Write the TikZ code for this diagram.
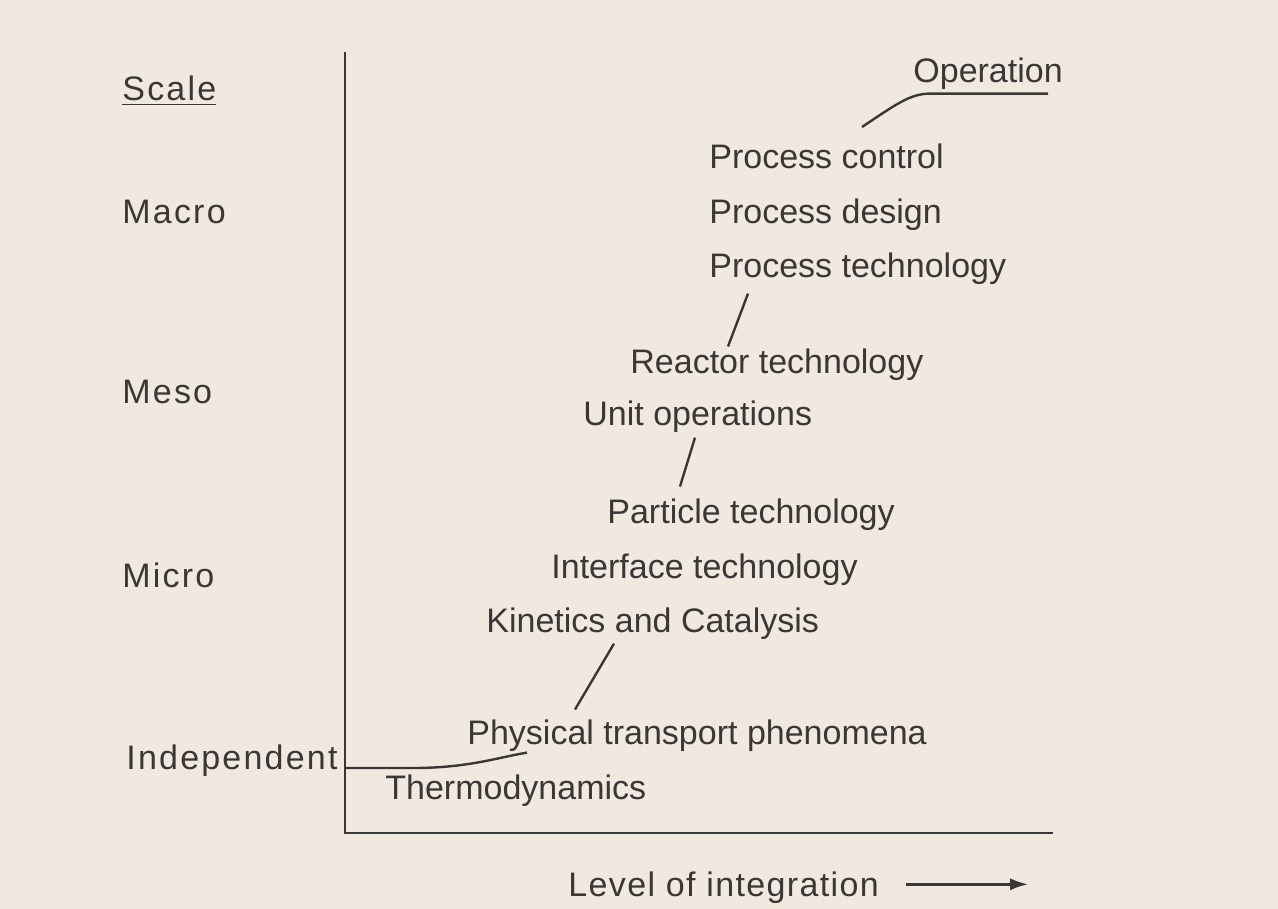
\documentclass[tikz,border=0pt]{standalone}
\usepackage{fontspec}
\setmainfont{Liberation Sans}
\newfontfamily\scalefont[LetterSpace=6.5]{Liberation Sans}
\newfontfamily\levelfont[LetterSpace=4]{Liberation Sans}
\usetikzlibrary{calc,arrows.meta}
\definecolor{paper}{RGB}{241,233,223}
\definecolor{ink}{RGB}{58,56,54}
\begin{document}
\begin{tikzpicture}[
  x=0.5pt, y=-0.5pt,
  every node/.style={font=\fontsize{17}{20}\selectfont, text=ink,
    inner sep=0pt, text height=12.3pt, text depth=3.6pt, anchor=base west},
  scalelabel/.style={font=\fontsize{17}{20}\scalefont},
  axis/.style={draw=ink, line width=1pt},
  link/.style={draw=ink, line width=1.2pt}
]

% Paper
\fill[paper] (0,0) rectangle (1278,909);

% Axes
\coordinate (ytop) at (345,52);
\coordinate (xend) at (1053,833);
\draw[axis] (ytop) |- (xend);

% Scale labels
\node[scalelabel] (scale) at (122,101) {\underline{Scale}};
\node[scalelabel] (macro) at (122,223) {Macro};
\node[scalelabel] (meso) at (122,403) {Meso};
\node[scalelabel] (micro) at (122,587) {Micro};
\node[scalelabel] (indep) at (126,769) {Independent};
\coordinate (indlvl) at (345,768);

% Subjects
\node (thermo) at (385,799) {Thermodynamics};
\node (phys) at (467,744) {Physical transport phenomena};
\node (kin) at (486,632) {Kinetics and Catalysis};
\node (iface) at (551,578) {Interface technology};
\node (part) at (607,523) {Particle technology};
\node (unit) at (583,425) {Unit operations};
\node (reactor) at (630,373) {Reactor technology};
\node (ptech) at (709,278) {Process technology};
\node (pdesign) at (709,223) {Process design};
\node (pcontrol) at (709,169) {Process control};
\node (oper) at (913,83) {Operation};

% Links
\draw[link] (indlvl) -- ++(68,0)
  .. controls ++(55,0) and ($(phys.south west)+(30,6)$) .. ($(phys.south west)+(60,1)$);
\draw[link] ($(phys.north west)+(108,-9.5)$) -- ($(kin.south west)+(128,4)$);
\draw[link] ($(part.north west)+(73,-11.5)$) -- ($(unit.south west)+(112,5)$);
\draw[link] ($(reactor.north west)+(98,-1.5)$) -- ($(ptech.south west)+(39,8)$);
\draw[link] ($(pcontrol.north west)+(153,-17)$)
  .. controls ++(33,-22) and ($(oper.south west)+(-3,3)$) .. ($(oper.south west)+(17,3)$)
  -- ($(oper.south west)+(135,3)$);

% Horizontal axis label
\node[font=\fontsize{17}{20}\levelfont] (level) at (568,896) {Level of integration};
\draw[link, -{Latex[length=9pt,width=6pt]}] ($(level.east)+(27,-3)$) -- ++(122,0);

\end{tikzpicture}
\end{document}
